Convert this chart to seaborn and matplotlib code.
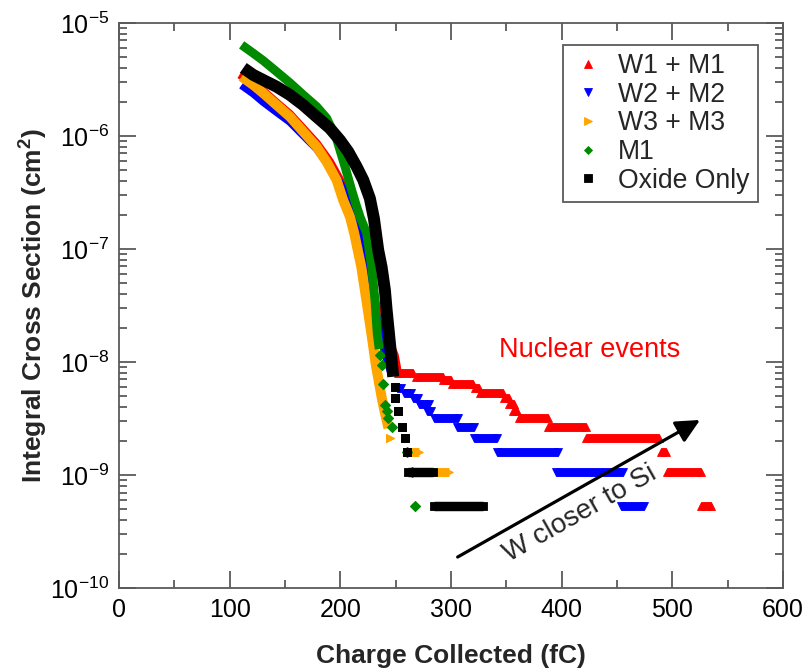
import numpy as np
import pandas as pd
import matplotlib
matplotlib.use("Agg")
import matplotlib.pyplot as plt
import seaborn as sns
from matplotlib.lines import Line2D
from matplotlib.ticker import LogLocator, MultipleLocator, LogFormatterMathtext, NullFormatter

sns.set_theme(style="ticks")
plt.rcParams["font.family"] = ["Liberation Sans", "DejaVu Sans"]
plt.rcParams["mathtext.fontset"] = "custom"
plt.rcParams["mathtext.rm"] = "Liberation Sans"
plt.rcParams["mathtext.bf"] = "Liberation Sans:bold"
plt.rcParams["mathtext.default"] = "regular"
plt.rcParams["axes.unicode_minus"] = False

# ---------------- data ----------------
series_names = ["W1 + M1", "W2 + M2", "W3 + M3", "M1", "Oxide Only"]

# dense (continuous-looking) part of each curve: charge (fC), cross section (cm^2)
w1_x = [109, 121.3, 130.4, 142.4, 154.5, 166.5, 178.6, 190.6, 199.6, 208.7, 216, 223, 230,
        237, 244, 249, 251, 251.5]
w1_y = [3.5e-6, 2.95e-6, 2.5e-6, 1.97e-6, 1.56e-6, 1.16e-6, 8.6e-7, 5.9e-7, 4.1e-7, 2.6e-7,
        1.5e-7, 7.5e-8, 3.8e-8, 2.2e-8, 1.5e-8, 1.15e-8, 9e-9, 8.2e-9]
w2_x = [110.8, 121.3, 130.4, 142.4, 154.5, 166.5, 178.6, 190.6, 199.6, 208.7, 213.2, 217.7,
        223.7, 229.7, 235.8, 241.8, 246.3]
w2_y = [2.83e-6, 2.39e-6, 2.01e-6, 1.64e-6, 1.34e-6, 1.02e-6, 7.78e-7, 5.35e-7, 3.81e-7,
        2.54e-7, 1.93e-7, 1.38e-7, 6.9e-8, 3.54e-8, 1.8e-8, 1.1e-8, 7.9e-9]
w3_x = [110.8, 121.3, 130.4, 142.4, 154.5, 166.5, 178.6, 187.6, 196.6, 202.6, 208.7, 212.5,
        219, 223.5, 228, 232.3, 237.8, 241, 243.5]
w3_y = [3.35e-6, 2.83e-6, 2.39e-6, 1.88e-6, 1.48e-6, 1.09e-6, 8.03e-7, 5.9e-7, 4.08e-7,
        2.7e-7, 1.93e-7, 1.38e-7, 6.9e-8, 3.54e-8, 1.8e-8, 9.1e-9, 4.6e-9, 3.3e-9, 2.6e-9]
m1_x = [110.8, 121.3, 130.4, 142.4, 154.5, 166.5, 178.6, 187.6, 196.5, 204.2, 210.2, 214,
        218, 223.8, 228.3, 231.3, 233.3, 235.1]
m1_y = [6.4e-6, 5.4e-6, 4.64e-6, 3.71e-6, 2.95e-6, 2.31e-6, 1.82e-6, 1.44e-6, 9.5e-7,
        5.36e-7, 3.33e-7, 2.5e-7, 1.9e-7, 1.38e-7, 6.9e-8, 3.54e-8, 1.8e-8, 1.3e-8]
ox_x = [112.3, 121.3, 130.3, 142.4, 154.4, 166.4, 178.5, 190.5, 199.6, 207.1, 214.7, 220.7,
        226.7, 230.4, 234.2, 237.3, 240.3, 241.8, 243.9, 246.3, 247.8]
ox_y = [4.0e-6, 3.47e-6, 3.13e-6, 2.73e-6, 2.31e-6, 1.88e-6, 1.48e-6, 1.17e-6, 9.2e-7,
        7.27e-7, 5.35e-7, 4.08e-7, 2.8e-7, 1.85e-7, 9.8e-8, 6.9e-8, 4.3e-8, 2.9e-8, 1.8e-8,
        1.04e-8, 7.4e-9]

# tail (nuclear events): step levels, each from a start to an end charge
w1_t0 = [252, 268, 293, 301, 322, 326, 348, 352, 356, 361, 388, 422, 490, 495, 526]
w1_t1 = [266, 293, 300, 320, 325, 347, 352, 357, 360, 388, 422, 488, 494, 526, 535]
w1_tl = [7.95e-9, 7.42e-9, 6.89e-9, 6.36e-9, 5.83e-9, 5.30e-9, 4.77e-9, 4.24e-9, 3.71e-9,
         3.18e-9, 2.65e-9, 2.12e-9, 1.59e-9, 1.06e-9, 5.3e-10]
w2_t0 = [251, 257.5, 266, 271, 278, 284.5, 305, 321, 341.5, 395, 454]
w2_t1 = [255, 264, 270, 280, 282, 306, 321, 342, 396.5, 455, 474]
w2_tl = [5.83e-9, 5.30e-9, 4.77e-9, 4.24e-9, 3.71e-9, 3.18e-9, 2.65e-9, 2.12e-9, 1.59e-9,
         1.06e-9, 5.3e-10]
w3_t0 = [244.5, 260, 262, 301]
w3_t1 = [244.5, 271, 298, 312]
w3_tl = [2.12e-9, 1.59e-9, 1.06e-9, 5.3e-10]
m1_t0 = [236, 237.6, 238.5, 240, 242, 243, 246.6, 260, 264.7, 267.4]
m1_t1 = [236, 237.6, 238.5, 240, 242, 243, 246.6, 260, 264.7, 267.4]
m1_tl = [1.15e-8, 9.5e-9, 6.4e-9, 4.2e-9, 3.7e-9, 3.2e-9, 2.65e-9, 1.6e-9, 1.06e-9, 5.3e-10]
ox_t0 = [249, 249.5, 252, 255.6, 258.4, 260.5, 261.5, 284.5]
ox_t1 = [249, 249.5, 252, 255.6, 258.4, 260.5, 284, 329]
ox_tl = [6.0e-9, 4.8e-9, 3.7e-9, 2.65e-9, 2.12e-9, 1.59e-9, 1.06e-9, 5.3e-10]

x_ticks = [0, 100, 200, 300, 400, 500, 600]

colors = ["#ff0000", "#0000ff", "#ffa500", "#008a00", "#000000"]
markers = ["^", "v", ">", "D", "s"]

# ---------------- figure ----------------
fig = plt.figure(figsize=(8.1, 6.72), dpi=100)
ax = fig.add_axes([0.1469, 0.125, 0.8198, 0.8408])
ax.set_yscale("log")
ax.set_xlim(0, 600)
ax.set_ylim(1e-10, 1e-5)

dense = [(w1_x, w1_y), (w2_x, w2_y), (w3_x, w3_y), (m1_x, m1_y), (ox_x, ox_y)]
tails = [(w1_t0, w1_t1, w1_tl), (w2_t0, w2_t1, w2_tl), (w3_t0, w3_t1, w3_tl),
         (m1_t0, m1_t1, m1_tl), (ox_t0, ox_t1, ox_tl)]
dense_lw = [6.0, 6.0, 7.2, 6.4, 8.6]
msizes = [6.0, 6.0, 6.0, 4.8, 6.2]
bar_lw = [6.4, 6.4, 6.4, 0.0, 6.8]

for i in range(5):
    z = 3 + i
    dx, dy = dense[i]
    sns.lineplot(x=dx, y=dy, sort=False, estimator=None, ax=ax, color=colors[i],
                 linewidth=dense_lw[i], solid_capstyle="butt", solid_joinstyle="round", zorder=z)
    t0, t1, tl = tails[i]
    n = len(t0)
    df = pd.DataFrame({"x": list(t0) + list(t1), "y": list(tl) + list(tl),
                       "seg": list(range(n)) + list(range(n))})
    sns.lineplot(data=df, x="x", y="y", units="seg", estimator=None, ax=ax,
                 color=colors[i], linewidth=bar_lw[i] if bar_lw[i] > 0 else 0.01,
                 marker=markers[i], markersize=msizes[i],
                 markeredgewidth=0.6, markeredgecolor=colors[i],
                 solid_capstyle="butt", zorder=z, legend=False)

# axes styling
spine_c = "#5a5a5a"
for s in ax.spines.values():
    s.set_color(spine_c)
    s.set_linewidth(1.3)
ax.set_xticks(x_ticks)
ax.xaxis.set_minor_locator(MultipleLocator(50))
ax.yaxis.set_major_locator(LogLocator(base=10, numticks=20))
ax.yaxis.set_minor_locator(LogLocator(base=10, subs=np.arange(2, 10), numticks=100))
ax.yaxis.set_major_formatter(LogFormatterMathtext())
ax.yaxis.set_minor_formatter(NullFormatter())
ax.tick_params(which="both", direction="in", top=True, right=True, color=spine_c, width=1.3,
               labelsize=18, labelcolor="black")
ax.tick_params(which="major", length=12)
ax.tick_params(which="minor", length=6)
ax.tick_params(axis="x", pad=7)
ax.tick_params(axis="y", pad=7)
ax.set_xlabel("Charge Collected (fC)", fontsize=19, fontweight="bold", labelpad=16)
ax.set_ylabel(r"Integral Cross Section (cm$^\mathbf{2}$)", fontsize=19, fontweight="bold", labelpad=0)

# legend
handles = [Line2D([], [], ls="none", marker=markers[i], color=colors[i],
                  markersize=5.6 if i != 3 else 4.4, markeredgewidth=0.6)
           for i in range(5)]
leg = ax.legend(handles, series_names, loc="upper right", bbox_to_anchor=(0.962, 0.961),
                borderaxespad=0, prop={"size": 19.2}, frameon=True, fancybox=False,
                edgecolor=spine_c, framealpha=1, handlelength=1.27, handletextpad=0.5,
                labelspacing=0.1, borderpad=0.3)
leg.get_frame().set_linewidth(1.3)
leg.set_zorder(20)

# annotations
ax.text(425.5, 1.106e-8, "Nuclear events", color="#ff0000", fontsize=19.5,
        ha="center", va="baseline", zorder=15)
ax.annotate("", xy=(525, 3.07e-9), xytext=(306, 1.88e-10),
            arrowprops=dict(arrowstyle="-|>,head_length=0.45,head_width=0.22",
                            color="black", lw=2.3, mutation_scale=32, shrinkA=0, shrinkB=0),
            zorder=15)
ax.text(416.4, 4.52e-10, "W closer to Si", fontsize=20, rotation=29.5, rotation_mode="anchor",
        ha="center", va="center", zorder=15)

fig.savefig("out.png", dpi=100)
